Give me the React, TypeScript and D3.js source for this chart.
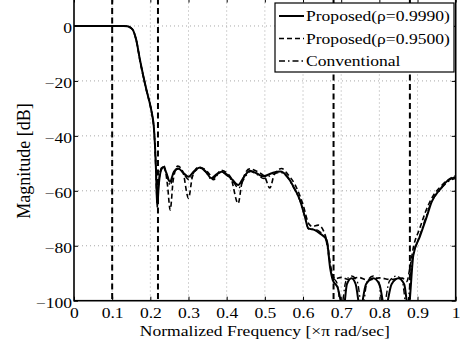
import { useEffect, useRef } from 'react'
import * as d3 from 'd3'

// Proposed (rho = 0.9990), solid
const freqA = [0, 0.05, 0.1, 0.13, 0.14, 0.148, 0.155, 0.163, 0.173, 0.19, 0.2, 0.205, 0.209, 0.212, 0.215, 0.218, 0.222, 0.228, 0.234, 0.242, 0.251, 0.262, 0.273, 0.287, 0.3, 0.315, 0.33, 0.345, 0.36, 0.375, 0.387, 0.4, 0.415, 0.43, 0.445, 0.461, 0.478, 0.496, 0.52, 0.54, 0.56, 0.575, 0.592, 0.605, 0.614, 0.631, 0.644, 0.662, 0.671, 0.678, 0.69, 0.706, 0.715, 0.727, 0.738, 0.75, 0.765, 0.784, 0.8, 0.815, 0.832, 0.85, 0.865, 0.876, 0.889, 0.906, 0.924, 0.937, 0.959, 0.977, 1]
const magA = [0, 0, 0, 0, -0.1, -0.6, -1.6, -5, -12.5, -23.4, -29, -32.5, -36.5, -43, -53, -66, -58, -52.5, -51.3, -53.5, -56.7, -53, -51.9, -53.5, -54.9, -52.8, -51.5, -53, -55.4, -53.8, -53.1, -54, -56, -57.9, -55, -52.7, -53.6, -54.7, -53.5, -53, -55, -58.5, -63.4, -69.5, -73.7, -74.3, -75.5, -77.9, -88, -92.5, -95, -103, -94, -91.8, -94, -103, -94, -91.8, -94, -103, -94, -91.8, -94, -103, -83.5, -76.7, -69.5, -64, -59.5, -56.5, -55]

// Proposed (rho = 0.9500), dashed
const freqB = [0, 0.05, 0.1, 0.13, 0.14, 0.148, 0.155, 0.163, 0.173, 0.19, 0.2, 0.205, 0.209, 0.212, 0.215, 0.218, 0.222, 0.228, 0.236, 0.245, 0.252, 0.26, 0.272, 0.285, 0.3, 0.31, 0.325, 0.34, 0.355, 0.365, 0.385, 0.41, 0.43, 0.44, 0.46, 0.48, 0.5, 0.513, 0.525, 0.544, 0.56, 0.58, 0.6, 0.615, 0.625, 0.64, 0.655, 0.665, 0.675, 0.685, 0.7, 0.72, 0.745, 0.77, 0.8, 0.83, 0.86, 0.872, 0.88, 0.89, 0.905, 0.92, 0.94, 0.96, 0.98, 1]
const magB = [0, 0, 0, 0, -0.1, -0.6, -1.7, -5.2, -12.8, -23.6, -29.2, -32.8, -37, -44, -54, -64, -57, -52, -51, -58, -67, -56, -51, -53, -62.7, -55, -51.5, -52, -54, -56, -52.5, -55, -64.6, -57, -52, -53, -55, -59, -54, -51.9, -54, -58, -65, -72, -73, -72.5, -75, -80, -90, -92, -91.5, -92.3, -91.5, -92.5, -91.7, -92.3, -91.8, -93, -88, -80, -74, -68, -62, -58.5, -56, -54.5]

// Conventional, dash-dot
const freqC = [0, 0.05, 0.1, 0.13, 0.14, 0.148, 0.155, 0.163, 0.173, 0.19, 0.2, 0.205, 0.209, 0.212, 0.215, 0.218, 0.222, 0.228, 0.234, 0.243, 0.252, 0.262, 0.274, 0.288, 0.301, 0.316, 0.331, 0.346, 0.361, 0.376, 0.388, 0.401, 0.416, 0.431, 0.446, 0.462, 0.479, 0.497, 0.521, 0.541, 0.561, 0.576, 0.593, 0.606, 0.615, 0.63, 0.645, 0.66, 0.67, 0.68, 0.69, 0.7, 0.712, 0.727, 0.742, 0.755, 0.768, 0.784, 0.798, 0.81, 0.826, 0.845, 0.86, 0.872, 0.886, 0.903, 0.921, 0.935, 0.957, 0.977, 1]
const magC = [0, 0, 0, 0, -0.1, -0.6, -1.6, -5, -12.4, -23.3, -28.8, -32.4, -36.3, -42.5, -52, -65, -57.5, -52.3, -51.5, -54, -58, -53.2, -52, -54, -56, -53, -51.8, -53.3, -56, -54, -53.3, -54.5, -56.5, -59, -55.5, -53, -54, -55.5, -54, -53.3, -55.5, -59, -64, -70, -74, -74, -75, -78, -86, -91.5, -94, -103, -93, -91, -93, -103, -93, -91, -93, -103, -93, -91, -93, -103, -85, -77.5, -70, -64.5, -60, -57, -55.5]

const xTicks = [0, 0.1, 0.2, 0.3, 0.4, 0.5, 0.6, 0.7, 0.8, 0.9, 1]
const xTickLabels = ['0', '0.1', '0.2', '0.3', '0.4', '0.5', '0.6', '0.7', '0.8', '0.9', '1']
const yTicks = [-100, -80, -60, -40, -20, 0]
const yTickLabels = ['\u2212100', '\u221280', '\u221260', '\u221240', '\u221220', '0']
const bandEdges = [0.1, 0.22, 0.68, 0.88]

const legendLabels = ['Proposed(\u03c1=0.9990)', 'Proposed(\u03c1=0.9500)', 'Conventional']
const dashes = ['none', '5,3', '6,3,1.5,3']
const widths = [2, 1.6, 1.4]

const FONT = '"Liberation Serif", "Times New Roman", serif'
const FS = 15
const SX = 1.17

export default function App() {
  const svgRef = useRef<SVGSVGElement | null>(null)

  useEffect(() => {
    const W = 462
    const H = 343
    const L = 74, R = 455.7, T = -1.5, B = 300.7

    const x = d3.scaleLinear().domain([0, 1]).range([L, R])
    const y = d3.scaleLinear().domain([-100, 10]).range([B, T])

    const svg = d3.select(svgRef.current)
    svg.selectAll('*').remove()
    svg.attr('width', W).attr('height', H)

    svg.append('defs').append('clipPath').attr('id', 'plotclip')
      .append('rect').attr('x', L).attr('y', T).attr('width', R - L).attr('height', B - T)

    // grid
    const grid = svg.append('g')
    xTicks.slice(1, -1).forEach((t) => {
      grid.append('line').attr('x1', x(t)).attr('x2', x(t)).attr('y1', T).attr('y2', B)
        .attr('stroke', '#a8a8a8').attr('stroke-width', 1).attr('stroke-dasharray', '1,3')
    })
    yTicks.slice(1).forEach((t) => {
      grid.append('line').attr('x1', L).attr('x2', R).attr('y1', y(t)).attr('y2', y(t))
        .attr('stroke', '#a8a8a8').attr('stroke-width', 1).attr('stroke-dasharray', '1,3')
    })

    // band edges
    bandEdges.forEach((f) => {
      svg.append('line').attr('x1', x(f)).attr('x2', x(f)).attr('y1', T).attr('y2', B)
        .attr('stroke', '#000').attr('stroke-width', 2).attr('stroke-dasharray', '6,3.5')
    })

    // curves
    const series = [
      { f: freqA, m: magA },
      { f: freqB, m: magB },
      { f: freqC, m: magC },
    ]
    const line = d3.line<[number, number]>().x((d) => x(d[0])).y((d) => y(d[1])).curve(d3.curveMonotoneX)
    const curves = svg.append('g').attr('clip-path', 'url(#plotclip)')
    series.forEach((s, i) => {
      const pts = s.f.map((f, j) => [f, s.m[j]] as [number, number])
      curves.append('path').datum(pts)
        .attr('fill', 'none').attr('stroke', '#000')
        .attr('stroke-width', widths[i])
        .attr('stroke-dasharray', dashes[i])
        .attr('stroke-linejoin', 'round')
        .attr('d', line)
    })

    // axes (inward ticks)
    const xAxis = svg.append('g').attr('transform', `translate(0,${B})`)
      .call(d3.axisBottom(x).tickValues(xTicks).tickSize(-4).tickFormat((_, i) => xTickLabels[i]))
    xAxis.select('.domain').remove()
    svg.append('g').attr('transform', `translate(0,${T})`)
      .call(d3.axisTop(x).tickValues(xTicks).tickSize(-4).tickFormat(() => ''))
      .call((ax) => ax.select('.domain').remove())
    const yAxis = svg.append('g').attr('transform', `translate(${L},0)`)
      .call(d3.axisLeft(y).tickValues(yTicks).tickSize(-4).tickFormat((_, i) => yTickLabels[i]))
    yAxis.select('.domain').remove()
    svg.append('g').attr('transform', `translate(${R},0)`)
      .call(d3.axisRight(y).tickValues(yTicks).tickSize(-4).tickFormat(() => ''))
      .call((ax) => ax.select('.domain').remove())

    svg.selectAll('.tick line').attr('stroke', '#000').attr('stroke-width', 1)
    xAxis.selectAll('text').attr('font-family', FONT).attr('font-size', FS).attr('fill', '#000')
      .attr('dy', null).attr('y', 17.3).attr('transform', `scale(${SX},1)`)
    yAxis.selectAll('text').attr('font-family', FONT).attr('font-size', FS).attr('fill', '#000')
      .attr('dy', null).attr('y', 6.5).attr('x', -2 / SX).attr('transform', `scale(${SX},1)`)

    // frame
    svg.append('rect').attr('x', L).attr('y', T).attr('width', R - L).attr('height', B - T)
      .attr('fill', 'none').attr('stroke', '#000').attr('stroke-width', 1.6)

    // axis titles
    svg.append('text')
      .attr('transform', `translate(${(L + R) / 2},335.5) scale(${SX},1)`)
      .attr('text-anchor', 'middle').attr('font-family', FONT).attr('font-size', FS)
      .text('Normalized Frequency [\u00d7\u03c0 rad/sec]')
    svg.append('text')
      .attr('transform', `translate(30,161) rotate(-90)`)
      .attr('text-anchor', 'middle').attr('font-family', FONT).attr('font-size', 18)
      .text('Magnitude [dB]')

    // legend
    const lg = svg.append('g')
    lg.append('rect').attr('x', 275).attr('y', 3).attr('width', 179).attr('height', 69)
      .attr('fill', '#fff').attr('stroke', '#000').attr('stroke-width', 1.2)
    legendLabels.forEach((lab, i) => {
      const by = 21 + i * 22.5
      lg.append('line').attr('x1', 279).attr('x2', 304).attr('y1', by - 5).attr('y2', by - 5)
        .attr('stroke', '#000').attr('stroke-width', widths[i]).attr('stroke-dasharray', dashes[i])
      lg.append('text').attr('transform', `translate(306,${by}) scale(${SX},1)`)
        .attr('font-family', FONT).attr('font-size', FS).text(lab)
    })
  }, [])

  return (
    <div style={{ position: 'absolute', left: 0, top: 0 }}>
      <svg ref={svgRef} style={{ display: 'block' }} />
    </div>
  )
}
